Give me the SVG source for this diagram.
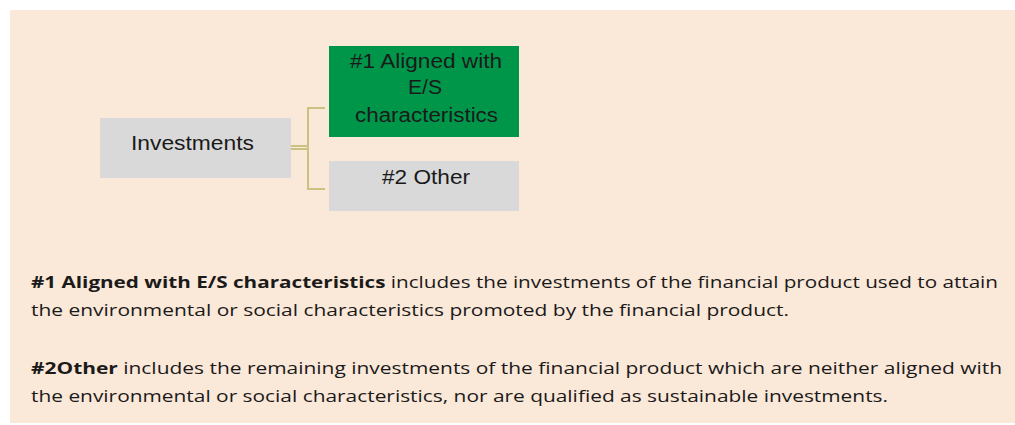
<svg xmlns="http://www.w3.org/2000/svg" width="1015" height="425" viewBox="0 0 1015 425">
<style>
.box{stroke:none}
.lbl{font-family:"Liberation Sans",Arial,sans-serif;font-size:20px;fill:#1a1a1a}
.desc{font-family:"Open Sans","Liberation Sans",sans-serif;font-size:16px;fill:#1a1a1a}
.b{font-weight:bold}
.conn{fill:none;stroke:#c9c283;stroke-width:2}
</style>
<rect x="0" y="0" width="1015" height="425" fill="#ffffff"/>
<rect x="10" y="10" width="1005" height="413" fill="#fae8d8"/>
<g id="connectors">
<path class="conn" d="M291,146 H308 M291,149 H308 M325,108 H308 V189 H325"/>
</g>
<g id="investments">
<rect class="box" x="100" y="118" width="191" height="60" fill="#d9d9d9"/>
<text class="lbl" x="131" y="150" textLength="123" lengthAdjust="spacingAndGlyphs">Investments</text>
</g>
<g id="aligned">
<rect class="box" x="329" y="46" width="190" height="91" fill="#00964a"/>
<text class="lbl" x="350" y="68" textLength="152" lengthAdjust="spacingAndGlyphs">#1 Aligned with</text>
<text class="lbl" x="408" y="94" textLength="34" lengthAdjust="spacingAndGlyphs">E/S</text>
<text class="lbl" x="355" y="122" textLength="143" lengthAdjust="spacingAndGlyphs">characteristics</text>
</g>
<g id="other">
<rect class="box" x="329" y="161" width="190" height="50" fill="#d9d9d9"/>
<text class="lbl" x="382" y="184" textLength="88" lengthAdjust="spacingAndGlyphs">#2 Other</text>
</g>
<g id="description">
<text class="desc" x="31" y="288" textLength="967" lengthAdjust="spacingAndGlyphs"><tspan class="b">#1 Aligned with E/S characteristics</tspan> includes the investments of the financial product used to attain</text>
<text class="desc" x="31" y="316" textLength="758" lengthAdjust="spacingAndGlyphs">the environmental or social characteristics promoted by the financial product.</text>
<text class="desc" x="31" y="374" textLength="971" lengthAdjust="spacingAndGlyphs"><tspan class="b">#2Other</tspan> includes the remaining investments of the financial product which are neither aligned with</text>
<text class="desc" x="31" y="402" textLength="857" lengthAdjust="spacingAndGlyphs">the environmental or social characteristics, nor are qualified as sustainable investments.</text>
</g>
</svg>
